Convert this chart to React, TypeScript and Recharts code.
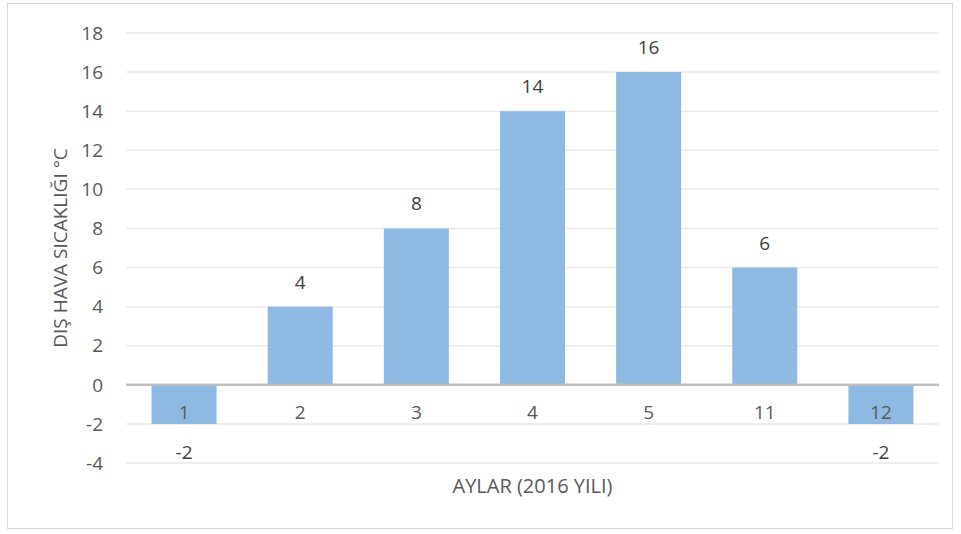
import { Bar, BarChart, CartesianGrid, LabelList, ReferenceLine, XAxis, YAxis } from "recharts";

const months = ["1", "2", "3", "4", "5", "11", "12"];
const temps = [-2, 4, 8, 14, 16, 6, -2];
const yTicks = [-4, -2, 0, 2, 4, 6, 8, 10, 12, 14, 16, 18];

const data = months.map((m, i) => ({ ay: m, temp: temps[i] }));

const font = "'Open Sans', 'Liberation Sans', sans-serif";
const textColor = "#595959";

const renderValue = (props: any) => {
  const { x, y, width, height, value } = props;
  const top = Math.min(y, y + height);
  const bottom = Math.max(y, y + height);
  const cy = value >= 0 ? top - 25 : bottom + 28;
  return (
    <text
      x={x + width / 2}
      y={cy}
      textAnchor="middle"
      dominantBaseline="central"
      fill="#404040"
      fontSize={19}
      fontFamily={font}
    >
      {value}
    </text>
  );
};

export default function App() {
  return (
    <div style={{ position: "absolute", left: 0, top: 0, width: 961, height: 534, background: "#fff" }}>
      <div
        style={{
          position: "absolute",
          left: 7,
          top: 3,
          width: 944,
          height: 524,
          border: "1px solid #d9d9d9",
        }}
      />
      <div style={{ position: "absolute", left: 0, top: 0 }}>
        <BarChart
          width={961}
          height={534}
          data={data}
          margin={{ top: 33, right: 22, bottom: 0, left: 0 }}
          barCategoryGap="22%"
        >
          <CartesianGrid vertical={false} stroke="#e9e9e9" strokeWidth={1.5} />
          <XAxis
            dataKey="ay"
            height={71}
            axisLine={false}
            tickLine={false}
            tickMargin={-63}
            tick={{ fill: textColor, fontSize: 19, fontFamily: font }}
            label={{
              value: "AYLAR (2016 YILI)",
              position: "center",
              dy: -13,
              fill: textColor,
              fontSize: 20,
              fontFamily: font,
            }}
          />
          <YAxis
            width={126}
            domain={[-4, 18]}
            ticks={yTicks}
            interval={0}
            axisLine={false}
            tickLine={false}
            tickMargin={17}
            tick={{ fill: textColor, fontSize: 19, fontFamily: font }}
            label={{
              value: "DIŞ HAVA SICAKLIĞI °C",
              angle: -90,
              position: "center",
              dx: -3,
              fill: textColor,
              fontSize: 19,
              fontFamily: font,
            }}
          />
          <Bar dataKey="temp" fill="#8db9e3" isAnimationActive={false}>
            <LabelList dataKey="temp" content={renderValue} />
          </Bar>
          <ReferenceLine y={0} stroke="#bfbfbf" strokeWidth={2.5} />
        </BarChart>
      </div>
    </div>
  );
}
